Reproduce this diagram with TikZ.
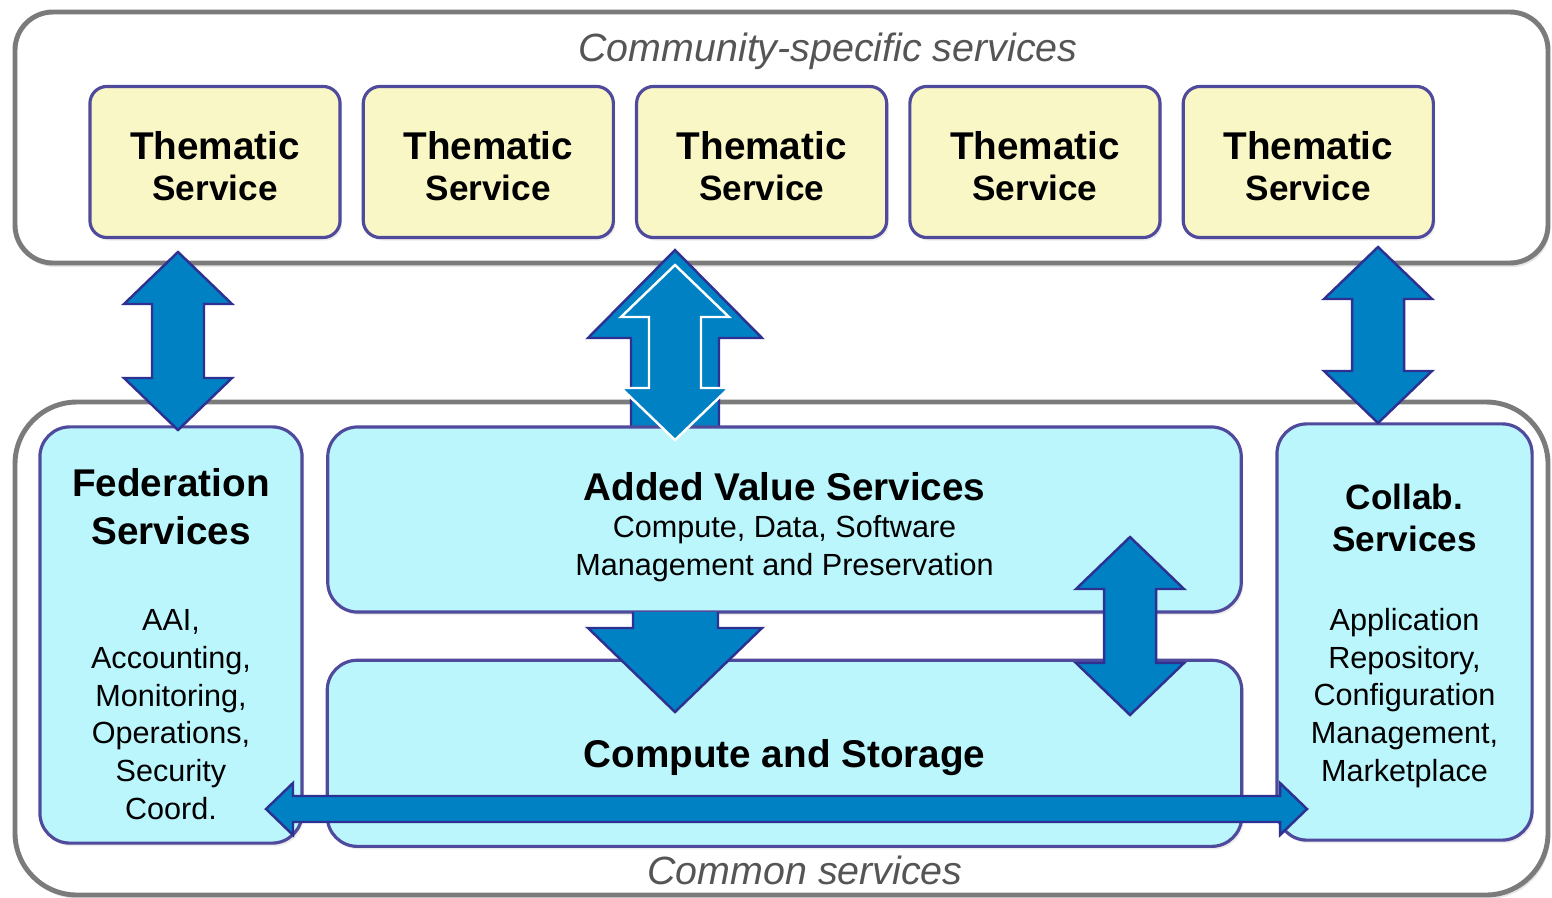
\documentclass[tikz,border=0pt]{standalone}
\usepackage{fontspec}
\setmainfont{Liberation Sans}
\usepackage{tikz}
\usetikzlibrary{positioning, calc, shadows}

\definecolor{framegray}{HTML}{7B7B7B}
\definecolor{themfill}{HTML}{FAF7C6}
\definecolor{boxline}{HTML}{4F4A9B}
\definecolor{cyanfill}{HTML}{BAF6FC}
\definecolor{arrowfill}{HTML}{0081C4}
\definecolor{arrowline}{HTML}{2E3192}
\definecolor{labelgray}{HTML}{555555}

\newcommand{\bigbf}{\fontsize{11}{13.7}\selectfont\bfseries}
\newcommand{\midbf}{\fontsize{10}{11.7}\selectfont\bfseries}
\newcommand{\smalltxt}{\fontsize{8.7}{10.7}\selectfont}

% vertical two-headed block arrow from tip #2 (top) to tip #3 (bottom)
\newcommand{\vdblarrow}[3][]{%
  \filldraw[blockarrow,#1] (#2) -- ++(54,52) -- ++(-28,0) -- ($(#3)+(26,-52)$) -- ++(28,0)
    -- (#3) -- ++(-54,-52) -- ++(28,0) -- ($(#2)+(-26,52)$) -- ++(-28,0) -- cycle;}

\begin{document}
\begin{tikzpicture}[x=0.01cm,y=-0.01cm]
    \tikzstyle{every node} = [font=\smalltxt]
    \tikzstyle{frame} = [draw=framegray, line width=1.4pt, fill=white, drop shadow={shadow xshift=0.02cm, shadow yshift=-0.04cm, opacity=0.2}]
    \tikzstyle{thembox} = [draw=boxline, line width=0.9pt, fill=themfill, rounded corners=0.17cm, minimum width=2.5cm, minimum height=1.51cm, align=center, font=\midbf, text height=22pt, text depth=0pt, drop shadow={shadow xshift=0.02cm, shadow yshift=-0.03cm, opacity=0.15}]
    \tikzstyle{cyanbox} = [draw=boxline, line width=0.9pt, fill=cyanfill, rounded corners=0.3cm, align=center, text depth=0pt, drop shadow={shadow xshift=0.02cm, shadow yshift=-0.03cm, opacity=0.15}]
    \tikzstyle{blockarrow} = [draw=arrowline, fill=arrowfill, line width=0.7pt, line join=miter]
    \tikzstyle{layer} = [font=\fontsize{11.2}{13}\selectfont\itshape, text=labelgray]
    \useasboundingbox (0,0) rectangle (1552,897);
    % frames
    \draw[frame, rounded corners=0.38cm] (15,12) rectangle (1548,263);
    \draw[frame, rounded corners=0.62cm] (15,402) rectangle (1548,895);
    \node[layer] (commlabel) at (828,51) {Community-specific services};
    \node[layer] (commonlabel) at (805,870) {Common services};
    % place nodes
    \node[thembox] (them1) at (215,162) {{\bigbf Thematic}\\Service};
    \node[thembox, right=0.2cm of them1] (them2) {{\bigbf Thematic}\\Service};
    \node[thembox, right=0.2cm of them2] (them3) {{\bigbf Thematic}\\Service};
    \node[thembox, right=0.2cm of them3] (them4) {{\bigbf Thematic}\\Service};
    \node[thembox, right=0.2cm of them4] (them5) {{\bigbf Thematic}\\Service};
    % big up arrow behind the added value box
    \filldraw[blockarrow] (675,250) -- (762,338) -- (719,338) -- (719,440) -- (631,440) -- (631,338) -- (588,338) -- cycle;
    \node[cyanbox, minimum width=2.62cm, minimum height=4.16cm, text height=104.7pt] (fed) at (171,635)
      {{\bigbf Federation}\\[3pt]{\bigbf Services}\\[13.8pt]AAI,\\Accounting,\\Monitoring,\\Operations,\\Security\\Coord.};
    \node[cyanbox, minimum width=9.13cm, minimum height=1.85cm, text height=31.6pt] (addval) at (784.5,519.5)
      {{\bigbf Added Value Services}\\[-0.2pt]Compute, Data, Software\\Management and Preservation};
    \node[cyanbox, minimum width=9.14cm, minimum height=1.86cm, below=0.45cm of addval, font=\bigbf] (store) {Compute and Storage};
    \node[cyanbox, minimum width=2.55cm, minimum height=4.16cm, text height=84.8pt] (collab) at (1404.5,632)
      {{\midbf Collab.}\\[1.2pt]{\midbf Services}\\[11.7pt]Application\\Repository,\\Configuration\\Management,\\Marketplace};
    % Connections
    \coordinate (fedtop) at (178,252);
    \coordinate (fedbot) at (178,430);
    \coordinate (midtop) at (675,265);
    \coordinate (midbot) at (675,440);
    \coordinate (coltop) at (1378,247);
    \coordinate (colbot) at (1378,423);
    \coordinate (stotop) at (1130,537);
    \coordinate (stobot) at (1130,715);
    \vdblarrow{fedtop}{fedbot}
    \vdblarrow[draw=white]{midtop}{midbot}
    \vdblarrow{coltop}{colbot}
    \vdblarrow{stotop}{stobot}
    % down arrow from added value to compute and storage
    \fill[arrowfill] (633,612) -- (633,628) -- (588,628) -- (675,712) -- (762,628) -- (718,628) -- (718,612) -- cycle;
    \draw[blockarrow, fill=none] (633,612) -- (633,628) -- (588,628) -- (675,712) -- (762,628) -- (718,628) -- (718,612);
    % horizontal arrow along the bottom
    \coordinate (fedright) at (266,809);
    \coordinate (colleft) at (1307,809);
    \filldraw[blockarrow] (fedright) -- ++(27,-26) -- ++(0,13) -- ($(colleft)+(-27,-13)$) -- ++(0,-13)
      -- (colleft) -- ++(-27,26) -- ++(0,-13) -- ($(fedright)+(27,13)$) -- ++(0,13) -- cycle;
  \end{tikzpicture}
\end{document}
